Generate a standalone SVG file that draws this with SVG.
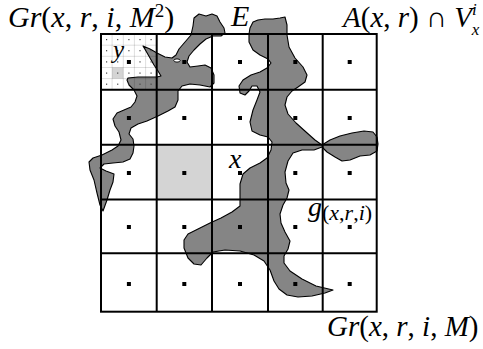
<svg xmlns="http://www.w3.org/2000/svg" xmlns:xlink="http://www.w3.org/1999/xlink" width="483" height="349" viewBox="0 0 483 349">
<style>
.blob{fill:#858585;stroke:#000;stroke-width:1.1;stroke-linejoin:round}
.grid{stroke:#000;stroke-width:2;fill:none}
.fine{stroke:#000;stroke-opacity:0.22;stroke-width:0.6}
.t{font-family:"Liberation Serif","Times New Roman",serif;fill:#000}
.i{font-style:italic}
</style>
<defs>
<rect id="d" x="-2" y="-2" width="4" height="4" fill="#000"/>
<rect id="s" x="-0.6" y="-0.6" width="1.2" height="1.2" fill="#444"/>
</defs>
<rect width="483" height="349" fill="#fff"/>
<g id="cells">
<rect x="156.7" y="144.7" width="55.3" height="54.8" fill="#d4d4d4"/>
<rect x="112.1" y="67.5" width="11.2" height="11.1" fill="#d4d4d4"/>
</g>
<g id="set-E">
<polygon class="blob" points="143,46 150,49 157,53 165,57 172,58 176,55 179,49 185,42 191,35 193,26 194,18 199,14 206,16 212,14 217,16 220,22 224,28 225,33 221,36 213,36 206,39 200,44 194,50 189,56 187,62 190,67 198,66 205,65 211,68 214,75 214,83 210,87 200,85 190,84 182,86 178,91 178,100 175,107 168,111 158,116 147,121 138,124 131,128 129,134 133,139 134,146 133,153 130,159 123,162 113,163 104,164 100,168 106,171 114,174 113,182 110,190 107,200 103,211 100,205 97,193 94,180 90,170 89,162 93,158 102,155 112,150 118,146 121,140 119,132 115,126 113,119 117,113 124,110 131,107 135,102 137,96 134,90 129,85 127,80 128,78 138,77 148,77 157,77 161,76 158,71 154,65 150,58 146,51"/>
<ellipse cx="177" cy="60.5" rx="3.2" ry="1.6" fill="#fff" stroke="#000" stroke-width="0.9"/>
<polygon class="blob" points="250,28 253,22 258,20 265,19 273,19 280,18 285,17 287,25 287,35 289,47 295,58 303,67 307,75 305,82 298,87 292,91 287,97 285,105 288,114 296,123 306,132 315,140 322,145 330,140 340,136 352,133 364,131 373,132 377,137 378,144 377,151 370,155 360,156 350,160 342,161 335,157 327,152 322,147 314,150 302,150 293,153 288,161 285,172 286,183 289,190 287,198 283,205 280,214 281,223 285,232 290,241 288,249 284,256 284,263 290,271 302,279 316,286 333,290 325,293 312,296 298,297 287,295 279,289 274,281 270,270 264,261 254,255 240,251 225,250 213,252 207,258 201,265 194,264 188,258 184,248 184,240 188,234 198,229 210,223 221,218 232,212 240,206 240,196 240,184 243,174 250,168 260,163 267,158 271,150 272,142 268,137 260,135 252,131 250,122 253,110 257,100 260,92 257,86 252,86 249,91 245,95 240,93 239,86 243,80 251,75 260,72 267,68 271,63 268,59 260,55 253,50 249,42 249,34"/>
</g>
<g id="fine-grid" class="fine">
<line x1="112.1" y1="34" x2="112.1" y2="89.8"/>
<line x1="123.3" y1="34" x2="123.3" y2="89.8"/>
<line x1="134.4" y1="34" x2="134.4" y2="89.8"/>
<line x1="145.6" y1="34" x2="145.6" y2="89.8"/>
<line x1="101" y1="45.2" x2="156.7" y2="45.2"/>
<line x1="101" y1="56.3" x2="156.7" y2="56.3"/>
<line x1="101" y1="67.5" x2="156.7" y2="67.5"/>
<line x1="101" y1="78.6" x2="156.7" y2="78.6"/>
</g>
<g id="fine-dots">
<use xlink:href="#s" x="106.6" y="39.6"/><use xlink:href="#s" x="117.7" y="39.6"/><use xlink:href="#s" x="128.9" y="39.6"/><use xlink:href="#s" x="140" y="39.6"/><use xlink:href="#s" x="151.1" y="39.6"/>
<use xlink:href="#s" x="106.6" y="50.7"/><use xlink:href="#s" x="117.7" y="50.7"/><use xlink:href="#s" x="128.9" y="50.7"/><use xlink:href="#s" x="140" y="50.7"/><use xlink:href="#s" x="151.1" y="50.7"/>
<use xlink:href="#s" x="106.6" y="61.9"/><use xlink:href="#s" x="117.7" y="61.9"/><use xlink:href="#s" x="140" y="61.9"/><use xlink:href="#s" x="151.1" y="61.9"/>
<use xlink:href="#s" x="106.6" y="73.1"/><use xlink:href="#s" x="117.7" y="73.1"/><use xlink:href="#s" x="128.9" y="73.1"/><use xlink:href="#s" x="140" y="73.1"/><use xlink:href="#s" x="151.1" y="73.1"/>
<use xlink:href="#s" x="106.6" y="84.2"/><use xlink:href="#s" x="117.7" y="84.2"/><use xlink:href="#s" x="128.9" y="84.2"/><use xlink:href="#s" x="140" y="84.2"/><use xlink:href="#s" x="151.1" y="84.2"/>
</g>
<g id="grid" class="grid">
<rect x="101" y="34" width="275.7" height="277.7"/>
<line x1="156.7" y1="34" x2="156.7" y2="311.7"/>
<line x1="212" y1="34" x2="212" y2="311.7"/>
<line x1="268" y1="34" x2="268" y2="311.7"/>
<line x1="322.7" y1="34" x2="322.7" y2="311.7"/>
<line x1="101" y1="89.8" x2="376.7" y2="89.8"/>
<line x1="101" y1="144.7" x2="376.7" y2="144.7"/>
<line x1="101" y1="199.5" x2="376.7" y2="199.5"/>
<line x1="101" y1="253.3" x2="376.7" y2="253.3"/>
</g>
<g id="centers">
<use xlink:href="#d" x="128.9" y="62"/><use xlink:href="#d" x="184.3" y="62"/><use xlink:href="#d" x="240" y="62"/><use xlink:href="#d" x="295.3" y="62"/><use xlink:href="#d" x="349.7" y="62"/>
<use xlink:href="#d" x="128.9" y="118"/><use xlink:href="#d" x="184.3" y="118"/><use xlink:href="#d" x="240" y="118"/><use xlink:href="#d" x="295.3" y="118"/><use xlink:href="#d" x="349.7" y="118"/>
<use xlink:href="#d" x="128.9" y="173"/><use xlink:href="#d" x="184.3" y="173"/><use xlink:href="#d" x="240" y="173"/><use xlink:href="#d" x="295.3" y="173"/><use xlink:href="#d" x="349.7" y="173"/>
<use xlink:href="#d" x="128.9" y="227"/><use xlink:href="#d" x="184.3" y="227"/><use xlink:href="#d" x="240" y="227"/><use xlink:href="#d" x="295.3" y="227"/><use xlink:href="#d" x="349.7" y="227"/>
<use xlink:href="#d" x="128.9" y="284"/><use xlink:href="#d" x="184.3" y="284"/><use xlink:href="#d" x="240" y="284"/><use xlink:href="#d" x="295.3" y="284"/><use xlink:href="#d" x="349.7" y="284"/>
</g>
<g id="labels" class="t">
<text x="8" y="27" font-size="30"><tspan class="i">Gr</tspan>(<tspan class="i">x</tspan>, <tspan class="i">r</tspan>, <tspan class="i">i</tspan>, <tspan class="i">M</tspan><tspan font-size="19" dy="-10">2</tspan><tspan dy="10">)</tspan></text>
<text x="231" y="26" font-size="30" class="i">E</text>
<text x="343" y="27" font-size="29"><tspan class="i">A</tspan>(<tspan class="i">x</tspan>, <tspan class="i">r</tspan>) ∩ <tspan class="i">V</tspan><tspan font-size="17" class="i" dy="-12">i</tspan><tspan font-size="17" class="i" dx="-5" dy="20">x</tspan></text>
<text x="113" y="58" font-size="25" class="i">y</text>
<text x="229" y="168" font-size="28" class="i">x</text>
<text x="308" y="216" font-size="28"><tspan class="i">g</tspan><tspan font-size="22" dy="4">(<tspan class="i">x</tspan>,<tspan class="i">r</tspan>,<tspan class="i">i</tspan>)</tspan></text>
<text x="327" y="336" font-size="29"><tspan class="i">Gr</tspan>(<tspan class="i">x</tspan>, <tspan class="i">r</tspan>, <tspan class="i">i</tspan>, <tspan class="i">M</tspan>)</text>
</g>
</svg>
